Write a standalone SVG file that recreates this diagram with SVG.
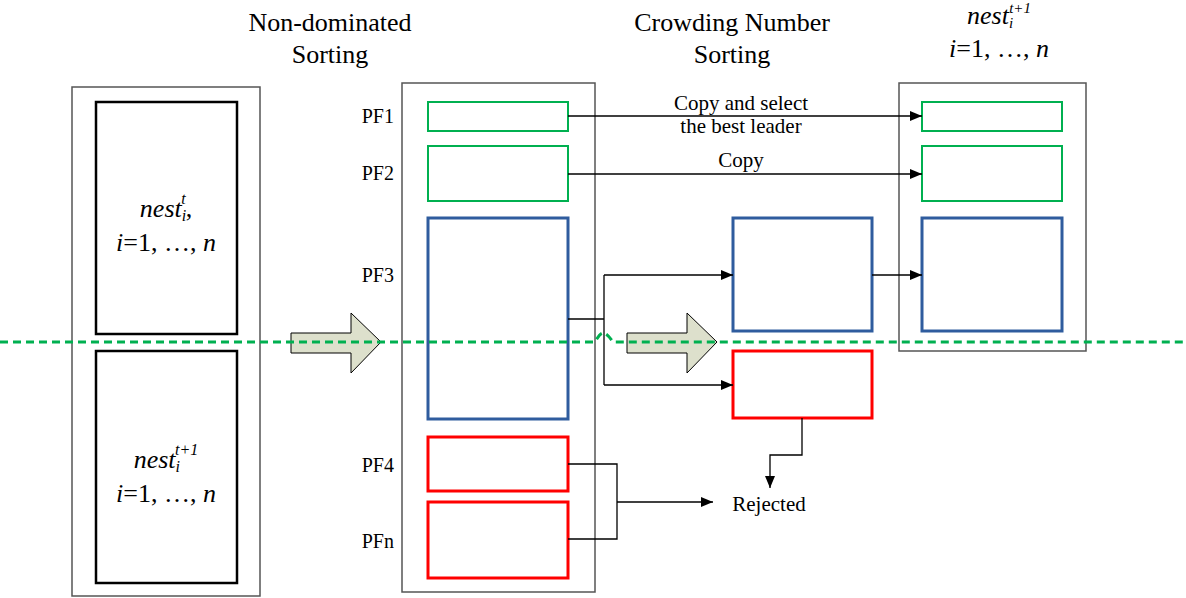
<svg xmlns="http://www.w3.org/2000/svg" width="1186" height="598" viewBox="0 0 1186 598">
<style>
text{font-family:"Liberation Serif","Times New Roman",serif;fill:#000}
.title{font-size:26px;text-anchor:middle}
.lbl{font-size:20px;text-anchor:end}
.conn{font-size:21px;text-anchor:middle}
.math{font-size:26px;text-anchor:middle}
.outer{fill:#fff;stroke:#555;stroke-width:1.5}
.inner{fill:#fff;stroke:#000;stroke-width:2.5}
.green{fill:#fff;stroke:#00b050;stroke-width:2}
.blue{fill:#fff;stroke:#2f5c9e;stroke-width:3}
.red{fill:#fff;stroke:#ff0000;stroke-width:3}
.line{fill:none;stroke:#000;stroke-width:1.3}
.big{fill:#dde0cc;stroke:#000;stroke-width:1}
</style>
<defs>
<marker id="ah" markerWidth="12" markerHeight="10" refX="12" refY="5" orient="auto" markerUnits="userSpaceOnUse">
<path d="M0,0 L12,5 L0,10 Z" fill="#000"/>
</marker>
</defs>
<rect width="1186" height="598" fill="#fff"/>

<g id="titles">
<text class="title" x="330" y="31">Non-dominated</text>
<text class="title" x="330" y="63">Sorting</text>
<text class="title" x="732" y="31">Crowding Number</text>
<text class="title" x="732" y="63">Sorting</text>
</g>

<g id="population">
<rect class="outer" x="72" y="87" width="188" height="509"/>
<g id="nest-t">
<rect class="inner" x="96" y="102" width="141" height="232"/>
<text class="math" x="166" y="217"><tspan font-style="italic">nest</tspan><tspan font-style="italic" font-size="16" dy="4">i</tspan><tspan font-style="italic" font-size="16" dx="-5" dy="-17">t</tspan><tspan dy="13">,</tspan></text>
<text class="math" x="166" y="251"><tspan font-style="italic">i</tspan>=1, …, <tspan font-style="italic">n</tspan></text>
</g>
<g id="nest-t1">
<rect class="inner" x="96" y="351" width="141" height="232"/>
<text class="math" x="166" y="468"><tspan font-style="italic">nest</tspan><tspan font-style="italic" font-size="16" dy="4">i</tspan><tspan font-style="italic" font-size="16" dx="-5" dy="-17">t+1</tspan></text>
<text class="math" x="166" y="502"><tspan font-style="italic">i</tspan>=1, …, <tspan font-style="italic">n</tspan></text>
</g>
</g>

<g id="fronts">
<rect class="outer" x="402" y="83" width="193" height="509"/>
<g id="pf1"><rect class="green" x="428" y="102" width="140" height="29"/><text class="lbl" x="394" y="123">PF1</text></g>
<g id="pf2"><rect class="green" x="428" y="146" width="140" height="55"/><text class="lbl" x="394" y="180">PF2</text></g>
<g id="pf3"><rect class="blue" x="428" y="218" width="140" height="201"/><text class="lbl" x="394" y="282">PF3</text></g>
<g id="pf4"><rect class="red" x="428" y="437" width="140" height="54"/><text class="lbl" x="394" y="472">PF4</text></g>
<g id="pfn"><rect class="red" x="428" y="502" width="140" height="76"/><text class="lbl" x="394" y="548">PFn</text></g>
</g>

<g id="crowding">
<rect id="cn-keep" class="blue" x="733" y="218" width="139" height="113"/>
<rect id="cn-reject" class="red" x="733" y="351" width="139" height="67"/>
</g>

<g id="next">
<rect class="outer" x="899" y="83" width="187" height="268"/>
<rect id="n1" class="green" x="922" y="102" width="140" height="29"/>
<rect id="n2" class="green" x="922" y="146" width="140" height="55"/>
<rect id="n3" class="blue" x="922" y="218" width="140" height="113"/>
<text class="math" x="999" y="24" font-size="23"><tspan font-style="italic">nest</tspan><tspan font-style="italic" font-size="15" dy="4">i</tspan><tspan font-style="italic" font-size="15" dx="-4" dy="-15">t+1</tspan></text>
<text class="math" x="999" y="57" font-size="23"><tspan font-style="italic">i</tspan>=1, …, <tspan font-style="italic">n</tspan></text>
</g>

<g id="rejected"><text class="conn" x="769" y="511">Rejected</text></g>

<g id="big-arrows">
<path class="big" d="M291,333 H351 V313 L381,342 L351,373 V353 H291 Z"/>
<path class="big" d="M627,333 H687 V313 L717,342 L687,373 V353 H627 Z"/>
</g>

<g id="connectors">
<path class="line" d="M568,116 H922" marker-end="url(#ah)"/>
<path class="line" d="M568,174 H922" marker-end="url(#ah)"/>
<path class="line" d="M568,319 H604"/>
<path class="line" d="M604,275 V385"/>
<path class="line" d="M604,275 H733" marker-end="url(#ah)"/>
<path class="line" d="M604,385 H733" marker-end="url(#ah)"/>
<path class="line" d="M872,275 H922" marker-end="url(#ah)"/>
<path class="line" d="M802,418 V455 H770 V488" marker-end="url(#ah)"/>
<path class="line" d="M568,464 H617 V539 H568"/>
<path class="line" d="M617,502 H713" marker-end="url(#ah)"/>
<text class="conn" x="741" y="110">Copy and select</text>
<text class="conn" x="741" y="133">the best leader</text>
<text class="conn" x="741" y="167">Copy</text>
</g>

<g id="divider">
<path d="M0,342 H595 Q600,333 603,333 Q607,333 613,342 H1186" fill="none" stroke="#00b050" stroke-width="3" stroke-dasharray="8,5"/>
</g>
</svg>
